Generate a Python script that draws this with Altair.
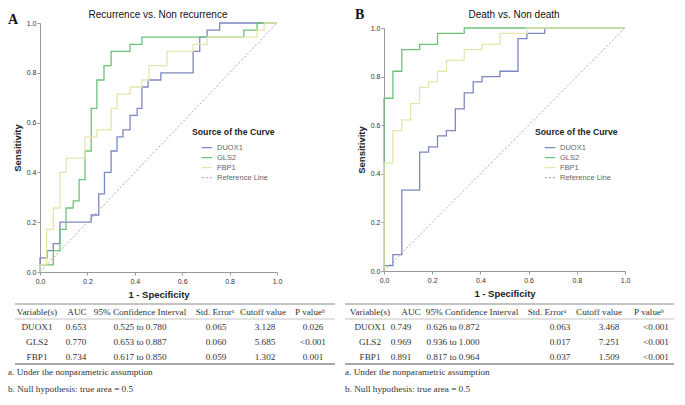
import altair as alt
import pandas as pd

SANS = "Liberation Sans"
SERIF = "Liberation Serif"

SERIES = ["DUOX1", "GLS2", "FBP1", "Reference Line"]
SERIES_COLORS = ["#7d87c0", "#6cc27a", "#e2e7ad", "#ababab"]
SERIES_DASH = [[1, 0], [1, 0], [1, 0], [2, 2]]

AXIS_TICKS = [0.0, 0.2, 0.4, 0.6, 0.8, 1.0]
REF_FPR = [0.0, 1.0]
REF_TPR = [0.0, 1.0]

# Panel A: Recurrence vs. Non recurrence (step points: x where the curve jumps, new sensitivity)
A_DUOX1_FPR = [0, 0, 0.03, 0.056, 0.084, 0.216, 0.248, 0.272, 0.30, 0.325, 0.35, 0.38, 0.41, 0.43, 0.456, 0.51, 0.646, 0.674, 0.705, 0.758, 1.0]
A_DUOX1_TPR = [0, 0.057, 0.086, 0.114, 0.2, 0.229, 0.314, 0.4, 0.486, 0.543, 0.571, 0.629, 0.657, 0.743, 0.771, 0.8, 0.886, 0.943, 0.971, 1.0, 1.0]
A_GLS2_FPR = [0, 0, 0.056, 0.084, 0.11, 0.14, 0.165, 0.19, 0.216, 0.24, 0.27, 0.30, 0.38, 0.43, 0.86, 0.916, 1.0]
A_GLS2_TPR = [0, 0.029, 0.086, 0.171, 0.257, 0.286, 0.371, 0.486, 0.657, 0.771, 0.829, 0.886, 0.914, 0.943, 0.971, 1.0, 1.0]
A_FBP1_FPR = [0, 0, 0.028, 0.056, 0.084, 0.11, 0.19, 0.24, 0.30, 0.325, 0.38, 0.43, 0.46, 0.536, 0.646, 0.705, 0.916, 0.946, 1.0]
A_FBP1_TPR = [0, 0.029, 0.171, 0.257, 0.4, 0.457, 0.543, 0.571, 0.657, 0.714, 0.743, 0.771, 0.829, 0.886, 0.914, 0.943, 0.971, 1.0, 1.0]

# Panel B: Death vs. Non death
B_DUOX1_FPR = [0, 0, 0.037, 0.074, 0.148, 0.185, 0.222, 0.259, 0.296, 0.333, 0.37, 0.407, 0.481, 0.556, 0.593, 0.667, 1.0]
B_DUOX1_TPR = [0, 0.022, 0.067, 0.333, 0.489, 0.511, 0.556, 0.578, 0.667, 0.733, 0.778, 0.8, 0.822, 0.956, 0.978, 1.0, 1.0]
B_GLS2_FPR = [0, 0, 0.037, 0.074, 0.148, 0.222, 0.333, 1.0]
B_GLS2_TPR = [0, 0.711, 0.822, 0.911, 0.933, 0.978, 1.0, 1.0]
B_FBP1_FPR = [0, 0, 0.037, 0.074, 0.111, 0.148, 0.185, 0.222, 0.259, 0.333, 0.407, 0.481, 0.593, 1.0]
B_FBP1_TPR = [0, 0.444, 0.578, 0.622, 0.689, 0.756, 0.778, 0.822, 0.867, 0.911, 0.933, 0.978, 1.0, 1.0]

# Tables
TABLE_HEADERS = ["Variable(s)", "AUC", "95% Confidence Interval", "Std. Error\u1d43", "Cutoff value", "P value\u1d47"]
VARIABLES = ["DUOX1", "GLS2", "FBP1"]
A_AUC = ["0.653", "0.770", "0.734"]
A_CI = ["0.525 to 0.780", "0.653 to 0.887", "0.617 to 0.850"]
A_SE = ["0.065", "0.060", "0.059"]
A_CUTOFF = ["3.128", "5.685", "1.302"]
A_P = ["0.026", "<0.001", "0.001"]
B_AUC = ["0.749", "0.969", "0.891"]
B_CI = ["0.626 to 0.872", "0.936 to 1.000", "0.817 to 0.964"]
B_SE = ["0.063", "0.017", "0.037"]
B_CUTOFF = ["3.468", "7.251", "1.509"]
B_P = ["<0.001", "<0.001", "<0.001"]
FOOTNOTES = ["a. Under the nonparametric assumption", "b. Null hypothesis: true area = 0.5"]


def roc_frame(curves):
    recs = []
    for name, (xs, ys) in curves.items():
        for i, (x, y) in enumerate(zip(xs, ys)):
            recs.append({"series": name, "fpr": x, "tpr": y, "idx": i})
    return pd.DataFrame(recs)


def make_panel(curves, title_text, title_x, label, label_x, label_y, width, height,
               y_range, legend_x, hdr_x, val_x, rule_x0, rule_x1, foot_x, table_cols):
    leg = alt.Legend(
        orient="none", legendX=legend_x, legendY=105, title="Source of the Curve",
        titleFont=SANS, titleFontSize=8.7, titleFontWeight="bold", titleColor="#222",
        titlePadding=5, labelFont=SANS, labelFontSize=7.5, labelColor="#666",
        symbolType="stroke", symbolSize=110, symbolStrokeWidth=1.3, symbolOffset=9,
        labelOffset=4, rowPadding=0, padding=0,
    )
    yscale = alt.Scale(domain=[0, 1], nice=False, zero=False)
    if y_range is not None:
        yscale = alt.Scale(domain=[0, 1], nice=False, zero=False, range=y_range)
    x_enc = alt.X("fpr:Q", scale=alt.Scale(domain=[0, 1], nice=False, zero=False),
                  axis=alt.Axis(values=AXIS_TICKS, format=".1f", title="1 - Specificity"))
    y_enc = alt.Y("tpr:Q", scale=yscale,
                  axis=alt.Axis(values=AXIS_TICKS, format=".1f", title="Sensitivity"))
    color = alt.Color("series:N", scale=alt.Scale(domain=SERIES, range=SERIES_COLORS),
                      legend=leg, title="Source of the Curve")
    dash = alt.StrokeDash("series:N", scale=alt.Scale(domain=SERIES, range=SERIES_DASH),
                          legend=leg, title="Source of the Curve")

    ref_df = pd.DataFrame({"series": ["Reference Line"] * len(REF_FPR), "fpr": REF_FPR, "tpr": REF_TPR})
    ref_layer = alt.Chart(ref_df).mark_line(strokeWidth=1).encode(
        x=x_enc, y=y_enc, color=color, strokeDash=dash)
    roc_layer = alt.Chart(roc_frame(curves)).mark_line(interpolate="step-after", strokeWidth=1.3).encode(
        x=x_enc, y=y_enc, color=color, strokeDash=dash, order=alt.Order("idx:Q"))
    plot = alt.layer(ref_layer, roc_layer)

    label_layer = alt.Chart(pd.DataFrame({"t": [label]})).mark_text(
        font=SERIF, fontSize=14, fontWeight="bold", align="left", baseline="alphabetic", color="#111"
    ).encode(text="t:N", x=alt.value(label_x), y=alt.value(label_y))
    title_layer = alt.Chart(pd.DataFrame({"t": [title_text]})).mark_text(
        font=SANS, fontSize=10, align="center", baseline="middle", color="#111"
    ).encode(text="t:N", x=alt.value(title_x), y=alt.value(-8))

    layers = [plot, label_layer, title_layer]
    tstyle = dict(font=SERIF, fontSize=9.2, color="#333", baseline="middle", align="center")
    for j in range(len(TABLE_HEADERS)):
        hdf = pd.DataFrame({"txt": [TABLE_HEADERS[j]]})
        layers.append(alt.Chart(hdf).mark_text(**tstyle).encode(
            text="txt:N", x=alt.value(hdr_x[j]), y=alt.value(289)))
        vdf = pd.DataFrame({"row": VARIABLES, "txt": table_cols[j]})
        layers.append(alt.Chart(vdf).mark_text(**tstyle).encode(
            text="txt:N", x=alt.value(val_x[j]),
            y=alt.Y("row:N", scale=alt.Scale(type="point", domain=VARIABLES, range=[304, 334], padding=0), axis=None)))
    for ry, col, sw in [(281, "#8a8a8a", 1.2), (296, "#b5b5b5", 0.8), (341, "#8a8a8a", 1.5)]:
        layers.append(alt.Chart(pd.DataFrame({"k": [0]})).mark_rule(color=col, strokeWidth=sw).encode(
            x=alt.value(rule_x0), x2=alt.value(rule_x1), y=alt.value(ry)))
    fdf = pd.DataFrame({"txt": FOOTNOTES})
    layers.append(alt.Chart(fdf).mark_text(font=SERIF, fontSize=9.2, color="#333", align="left", baseline="middle").encode(
        text="txt:N", x=alt.value(foot_x),
        y=alt.Y("txt:N", scale=alt.Scale(type="point", domain=FOOTNOTES, range=[349, 366], padding=0), axis=None)))

    return alt.layer(*layers).properties(width=width, height=height).resolve_scale(
        x="independent", y="independent")


panel_a = make_panel(
    {"DUOX1": (A_DUOX1_FPR, A_DUOX1_TPR), "GLS2": (A_GLS2_FPR, A_GLS2_TPR), "FBP1": (A_FBP1_FPR, A_FBP1_TPR)},
    "Recurrence vs. Non recurrence", 118, "A", -32, 1, 237, 249, None, 152,
    [-3, 37, 100, 175, 223, 270], [-3, 36, 100, 176, 225, 273], -25, 295, -32,
    [VARIABLES, A_AUC, A_CI, A_SE, A_CUTOFF, A_P],
)
panel_b = make_panel(
    {"DUOX1": (B_DUOX1_FPR, B_DUOX1_TPR), "GLS2": (B_GLS2_FPR, B_GLS2_TPR), "FBP1": (B_FBP1_FPR, B_FBP1_TPR)},
    "Death vs. Non death", 130, "B", -29, -4, 241, 248, [248, 5], 151,
    [-14, 27, 88, 163, 215, 265], [-14, 17, 69, 176, 225, 272], -39, 290, -39,
    [VARIABLES, B_AUC, B_CI, B_SE, B_CUTOFF, B_P],
)

chart = alt.hconcat(panel_a, panel_b, spacing=107, bounds="flush").resolve_scale(
    color="independent", strokeDash="independent"
).resolve_legend(
    color="independent", strokeDash="independent"
).properties(padding=0).configure_view(stroke=None).configure_axis(
    grid=False, domainColor="#999", tickColor="#999", labelColor="#333", labelFont=SANS,
    titleFont=SANS, labelFontSize=7, titleFontSize=9.5, titleFontWeight="bold", titleColor="#222",
    tickSize=3, labelFlush=False,
).configure_axisX(labelPadding=2, titlePadding=5).configure_axisY(labelPadding=1, titlePadding=4)

chart.save("out.html", embed_options={"renderer": "svg", "actions": False})
